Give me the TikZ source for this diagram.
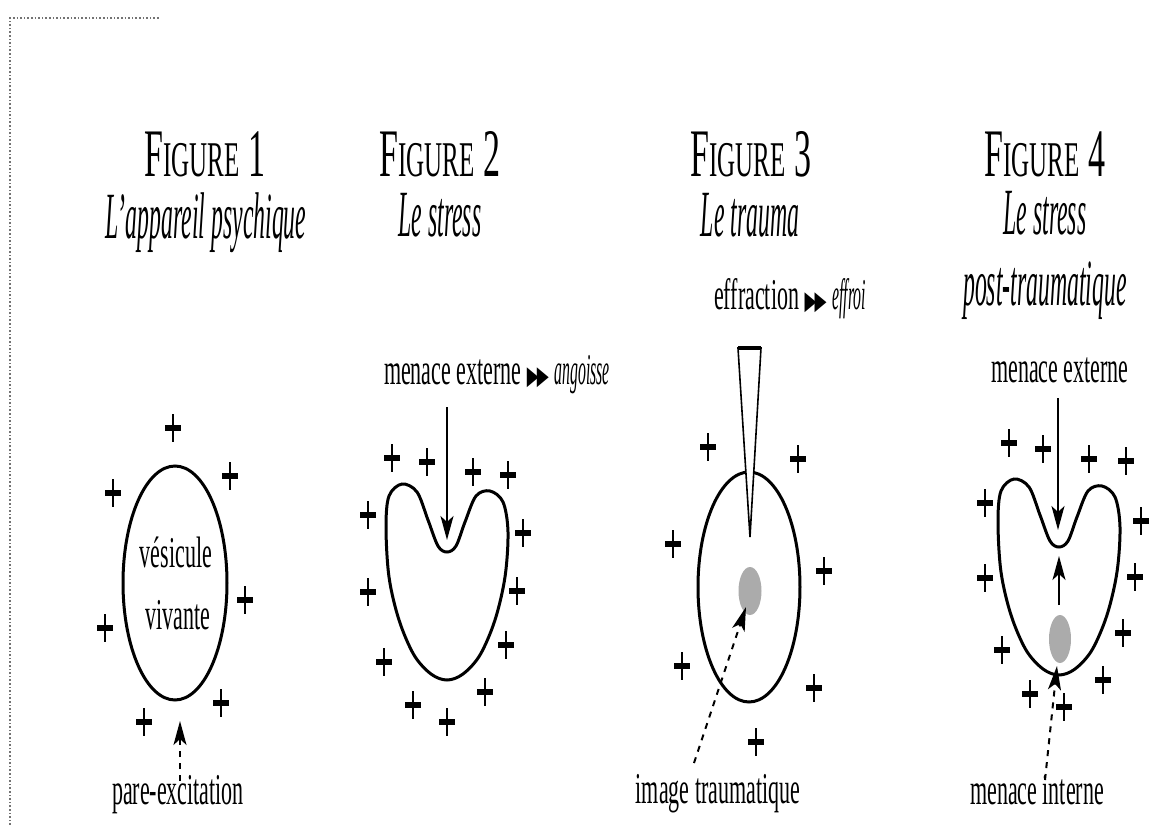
\documentclass[tikz,border=0pt]{standalone}
\usepackage{fontspec}
\setmainfont{Liberation Serif}[UprightFeatures={FakeStretch=0.5},ItalicFeatures={FakeStretch=0.36}]
\newfontfamily\trifont{DejaVu Sans}[FakeStretch=0.6]
\usetikzlibrary{arrows.meta}
\newcommand\twotri{{\trifont\fontsize{13}{13}\selectfont ▶\kern-1pt▶}}
\newcommand\smc[1]{{\fontsize{25}{27}\selectfont #1}}

\begin{document}
\begin{tikzpicture}[
    x=0.5pt, y=-0.5pt,
    outline/.style={line width=1.5pt},
    arr/.style={-{Stealth[length=12pt,width=6.5pt,inset=3pt]}, line width=1pt},
    dasharr/.style={arr, dash pattern=on 3pt off 3pt},
    blob/.style={fill=black!33},
    title/.style={font=\fontsize{34}{36}\selectfont, anchor=base},
    sub/.style={font=\fontsize{33}{36}\selectfont\itshape, anchor=base},
    lbl/.style={font=\fontsize{22}{24}\selectfont, anchor=mid},
    plusmark/.pic={\draw[line width=1.2pt] (0,-14) -- (0,14);
                   \draw[line width=2.6pt] (-8,0) -- (8,0);},
    heart/.pic={\draw[outline] plot[smooth cycle, tension=0.55] coordinates {
        (0,0) (-9,-6) (-19,-32) (-30,-60) (-45,-68) (-58,-56) (-61,-25)
        (-58,25) (-48,68) (-33,103) (-16,122) (0,128) (16,122) (33,103)
        (48,68) (58,25) (61,-20) (56,-50) (43,-61) (29,-56) (18,-30) (9,-6)};}
  ]
    \useasboundingbox (0,0) rectangle (1175,825);

    % Dotted frame
    \draw[densely dotted, black!55, line width=0.8pt] (10,825) -- (10,18) -- (160,18);

    % Titles
    \node[title] (fig1) at (205,176) {F\smc{IGURE} 1};
    \node[title] (fig2) at (440,176) {F\smc{IGURE} 2};
    \node[title] (fig3) at (751,176) {F\smc{IGURE} 3};
    \node[title] (fig4) at (1045,176) {F\smc{IGURE} 4};
    \node[sub] (sub1) at (206,238) {L'appareil psychique};
    \node[sub] (sub2) at (440,236) {Le stress};
    \node[sub] (sub3) at (750,236) {Le trauma};
    \node[sub] (sub4) at (1045,234) {Le stress};
    \node[sub] (sub4b) at (1045,305) {post-traumatique};

    % Figure 1
    \draw[outline] (175,583) ellipse [x radius=26pt, y radius=58.5pt];
    \node[lbl] (ves) at (176,563) {vésicule};
    \node[lbl] (viv) at (178,625) {vivante};
    \node[lbl] (pare) at (178,800) {pare-excitation};
    \coordinate (pe1) at (180,781);
    \coordinate (pe1tip) at (180,721);
    \draw[dasharr] (pe1) -- (pe1tip);
    \foreach \px/\py in {173/428, 230/476, 113/493, 245/600, 105/628, 144/722, 221/703}
      \pic at (\px,\py) {plusmark};

    % Figure 2
    \pic at (447,552) {heart};
    \node[lbl] (ext2) at (497,380) {menace externe \twotri\ \textit{angoisse}};
    \coordinate (ext2top) at (447,407);
    \coordinate (dip2) at (447,540);
    \draw[arr] (ext2top) -- (dip2);
    \foreach \px/\py in {392/458, 427/462, 473/472, 508/475, 368/515, 523/533, 368/592,
                         517/591, 506/645, 384/662, 485/692, 413/705, 447/722}
      \pic at (\px,\py) {plusmark};

    % Figure 3
    \draw[outline] (749,587) ellipse [x radius=25.5pt, y radius=57.5pt];
    \node[lbl] (effr) at (790,305) {effraction \twotri\ \textit{effroi}};
    \coordinate (wl) at (738,348);
    \coordinate (wr) at (761,348);
    \coordinate (wtip) at (750,537);
    \draw[line width=0.8pt, fill=white] (wl) -- (wr) -- (wtip) -- cycle;
    \draw[line width=2.4pt] (wl) -- (wr);
    \fill[blob] (750,591) ellipse [x radius=5.75pt, y radius=12pt];
    \node[lbl] (img) at (718,799) {image traumatique};
    \coordinate (img3) at (694,763);
    \coordinate (img3tip) at (746,607);
    \draw[dasharr] (img3) -- (img3tip);
    \foreach \px/\py in {708/447, 798/459, 673/544, 824/571, 682/666, 814/688, 756/742}
      \pic at (\px,\py) {plusmark};

    % Figure 4
    \pic at (1059,547) {heart};
    \fill[blob] (1060,639) ellipse [x radius=5.5pt, y radius=12pt];
    \node[lbl] (ext4) at (1060,378) {menace externe};
    \node[lbl] (int4) at (1037,800) {menace interne};
    \coordinate (ext4top) at (1058,398);
    \coordinate (dip4) at (1058,530);
    \draw[arr, line width=0.7pt] (ext4top) -- (dip4);
    \coordinate (up4) at (1059,605);
    \coordinate (up4tip) at (1059,556);
    \draw[arr, line width=0.7pt] (up4) -- (up4tip);
    \coordinate (int4s) at (1045,780);
    \coordinate (int4tip) at (1057,666);
    \draw[dasharr] (int4s) -- (int4tip);
    \foreach \px/\py in {1009/443, 1043/449, 1089/459, 1126/461, 985/503, 1141/521, 985/578,
                         1135/577, 1002/650, 1123/633, 1103/680, 1030/694, 1064/707}
      \pic at (\px,\py) {plusmark};
  \end{tikzpicture}
\end{document}
